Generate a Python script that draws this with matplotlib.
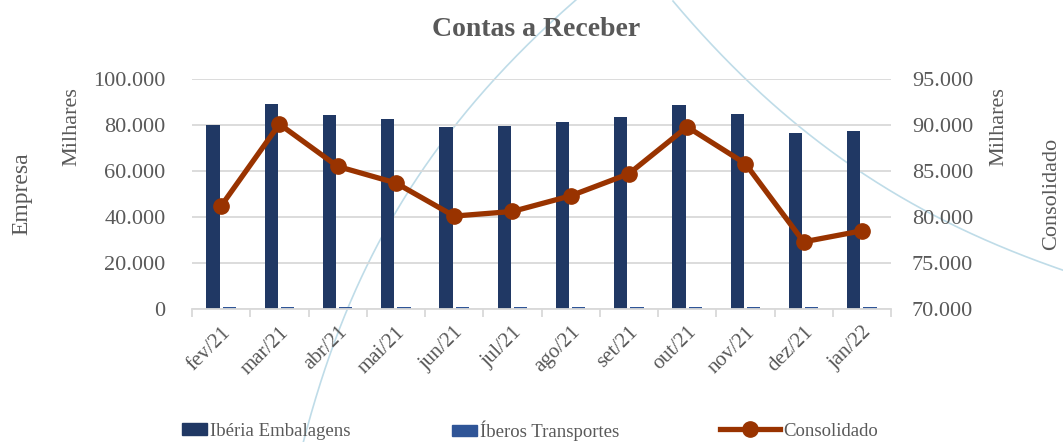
import numpy as np
import matplotlib
matplotlib.use("Agg")
import matplotlib.pyplot as plt
from matplotlib.patches import Patch
from matplotlib.lines import Line2D
from matplotlib.ticker import FuncFormatter, MultipleLocator

plt.rcParams['font.family'] = ['Liberation Serif', 'DejaVu Serif']

# Dados (em milhares)
meses = ['fev/21', 'mar/21', 'abr/21', 'mai/21', 'jun/21', 'jul/21',
         'ago/21', 'set/21', 'out/21', 'nov/21', 'dez/21', 'jan/22']
iberia = [80000, 89100, 84300, 82600, 79000, 79600,
          81200, 83500, 88700, 84800, 76400, 77400]
iberos = [900, 900, 900, 900, 900, 900,
          900, 900, 900, 900, 900, 900]
consolidado = [81200, 90100, 85500, 83700, 80100, 80600,
               82300, 84700, 89800, 85800, 77300, 78500]

COR_TXT = '#595959'
COR_IBERIA = '#203864'
COR_IBEROS = '#2F5597'
COR_CONS = '#993300'
COR_GRID = '#D9D9D9'

def milhar(v, pos):
    return '{:,.0f}'.format(v).replace(',', '.')

W, H = 1063, 442
fig = plt.figure(figsize=(W / 100, H / 100), dpi=100)

# arcos decorativos de fundo (pixels da imagem)
arco1 = [(303, 442), (313, 410), (350, 300), (393, 217), (457, 127),
         (493, 79), (540, 30), (578, 0)]
arco2 = [(673, 0), (710, 45), (747, 79), (790, 120), (853, 165), (947, 223), (1063, 270)]
for arco, eixo in ((arco1, 'y'), (arco2, 'x')):
    px = np.array([p[0] for p in arco], float)
    py = np.array([p[1] for p in arco], float)
    if eixo == 'y':
        c = np.polyfit(py, px, 3)
        yy = np.linspace(py.min(), py.max(), 200)
        xx = np.polyval(c, yy)
    else:
        c = np.polyfit(px, py, 3)
        xx = np.linspace(px.min(), px.max(), 200)
        yy = np.polyval(c, xx)
    fig.add_artist(Line2D(xx / W, 1 - yy / H, transform=fig.transFigure,
                          color='#BFDCE8', lw=1.2, zorder=0))

ax = fig.add_axes([192 / W, 1 - 309 / H, (891 - 192) / W, (309 - 79) / H])
ax.patch.set_alpha(0)
x = np.arange(len(meses))
larg = 0.23
ax.bar(x - 0.14, iberia, larg, color=COR_IBERIA, zorder=2)
ax.bar(x + 0.14, iberos, larg, color=COR_IBEROS, zorder=2)
ax.set_ylim(0, 100000)
ax.set_xlim(-0.5, len(meses) - 0.5)
ax.yaxis.set_major_locator(MultipleLocator(20000))
ax.yaxis.set_major_formatter(FuncFormatter(milhar))
ax.grid(axis='y', color=COR_GRID, lw=1.3, zorder=0)
ax.set_axisbelow(True)
for s in ['top', 'right', 'left']:
    ax.spines[s].set_visible(False)
ax.spines['bottom'].set_color(COR_GRID)
ax.spines['bottom'].set_linewidth(1.3)
ax.set_xticks(x)
ax.set_xticklabels(meses, rotation=45, ha='right', rotation_mode='anchor')
ax.set_xticks(np.arange(-0.5, len(meses)), minor=True)
ax.tick_params(axis='x', which='major', length=0, pad=10, labelsize=15, labelcolor=COR_TXT)
ax.tick_params(axis='x', which='minor', length=6, color=COR_GRID, width=1.3)
ax.tick_params(axis='y', length=0, pad=19, labelsize=16, labelcolor=COR_TXT)

ax2 = ax.twinx()
ax2.plot(x, consolidado, color=COR_CONS, lw=3.8, marker='o', ms=11, zorder=3)
ax2.set_ylim(70000, 95000)
ax2.yaxis.set_major_locator(MultipleLocator(5000))
ax2.yaxis.set_major_formatter(FuncFormatter(milhar))
for s in ax2.spines.values():
    s.set_visible(False)
ax2.tick_params(axis='y', length=0, pad=15, labelsize=16, labelcolor=COR_TXT)

fig.text(536 / W, 1 - 29 / H, 'Contas a Receber', ha='center', va='center',
         fontsize=20, fontweight='bold', color=COR_TXT)
fig.text(22 / W, 1 - 194 / H, 'Empresa', rotation=90, ha='center', va='center',
         fontsize=17, color=COR_TXT)
fig.text(72 / W, 1 - 127 / H, 'Milhares', rotation=90, ha='center', va='center',
         fontsize=16, color=COR_TXT)
fig.text(999 / W, 1 - 127 / H, 'Milhares', rotation=90, ha='center', va='center',
         fontsize=16, color=COR_TXT)
fig.text(1052 / W, 1 - 194 / H, 'Consolidado', rotation=90, ha='center', va='center',
         fontsize=16, color=COR_TXT)

# legenda em tres partes para controlar o tamanho dos marcadores
itens = [
    (Patch(color=COR_IBERIA), 'Ibéria Embalagens', 182, 1.35),
    (Patch(color=COR_IBEROS), 'Íberos Transportes', 452, 1.35),
    (Line2D([], [], color=COR_CONS, lw=3.8, marker='o', ms=11), 'Consolidado', 720, 3.2),
]
for h, rot, px, hl in itens:
    fig.legend([h], [rot], loc='center left', bbox_to_anchor=(px / W, 1 - 431 / H),
               frameon=False, fontsize=13.5, handlelength=hl, handletextpad=0.15,
               handleheight=0.55, borderpad=0, borderaxespad=0, labelcolor=COR_TXT)

fig.savefig('out.png', dpi=100)
